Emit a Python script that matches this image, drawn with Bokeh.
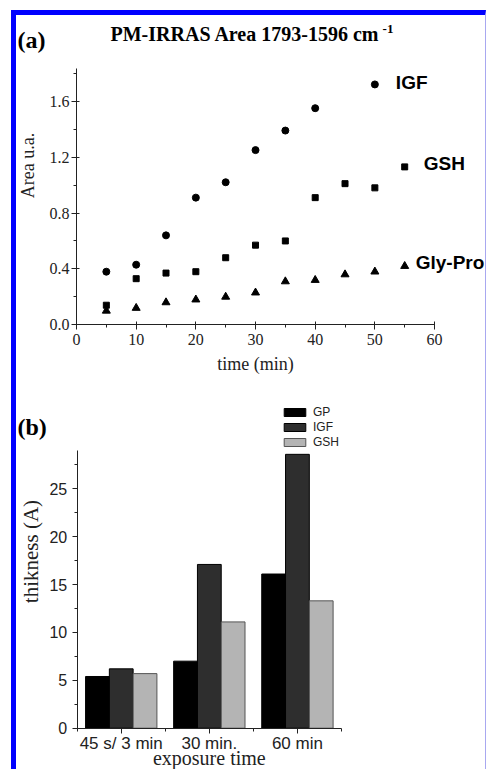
import math
from bokeh.plotting import figure
from bokeh.layouts import column
from bokeh.models import (Range1d, SingleIntervalTicker, FixedTicker, NumeralTickFormatter,
                          Label, Legend, LegendItem)
from bokeh.embed import file_html
from bokeh.resources import INLINE
from bokeh.core.properties import value

# ---------------- data: panel (a) ----------------
igf_time = [5, 10, 15, 20, 25, 30, 35, 40, 50]
igf_area = [0.38, 0.43, 0.64, 0.91, 1.02, 1.25, 1.39, 1.55, 1.72]
gsh_time = [5, 10, 15, 20, 25, 30, 35, 40, 45, 50, 55]
gsh_area = [0.14, 0.33, 0.37, 0.38, 0.48, 0.57, 0.60, 0.91, 1.01, 0.98, 1.13]
glypro_time = [5, 10, 15, 20, 25, 30, 35, 40, 45, 50, 55]
glypro_area = [0.10, 0.12, 0.16, 0.18, 0.20, 0.23, 0.31, 0.32, 0.36, 0.38, 0.42]

# ---------------- data: panel (b) ----------------
exposure = ["45 s/ 3 min", "30 min.", "60 min"]
thick_gp = [5.4, 7.0, 16.1]
thick_igf = [6.2, 17.1, 28.6]
thick_gsh = [5.7, 11.1, 13.3]

SERIF = "Liberation Serif"
SANS = "Liberation Sans"


def bare(p):
    p.outline_line_color = None
    p.xgrid.visible = False
    p.ygrid.visible = False


def lab(p, **kw):
    kw.setdefault("text_color", "black")
    p.add_layout(Label(**kw))


# ================= panel (a) =================
p1 = figure(width=469, height=365, x_range=Range1d(-10.055, 68.54),
            y_range=Range1d(-0.3986, 2.2133),
            output_backend="svg", toolbar_location=None,
            min_border_left=0, min_border_right=0, min_border_top=0, min_border_bottom=0)
bare(p1)

p1.scatter(igf_time, igf_area, marker="circle", size=7, color="black")
p1.scatter(gsh_time, gsh_area, marker="square", size=6, color="black")
p1.scatter(glypro_time, glypro_area, marker="triangle", size=8, color="black")

for xs, ys, name, dx, dy in [(igf_time, igf_area, "IGF", 21, -2),
                             (gsh_time, gsh_area, "GSH", 19, -3),
                             (glypro_time, glypro_area, "Gly-Pro", 11, -4)]:
    p1.text(x=[xs[-1]], y=[ys[-1]], text=[name], x_offset=dx, y_offset=dy,
            text_font=value(SANS), text_font_style="bold", text_font_size="19px",
            text_baseline="middle", text_align="left", text_color="black")

xa = p1.xaxis[0]
xa.ticker = SingleIntervalTicker(interval=10, num_minor_ticks=2)
xa.bounds = (0, 60)
xa.fixed_location = 0
ya = p1.yaxis[0]
ya.ticker = SingleIntervalTicker(interval=0.4, num_minor_ticks=2)
ya.bounds = (0, 1.834)
ya.fixed_location = 0
ya.formatter = NumeralTickFormatter(format="0.0")
for ax in (xa, ya):
    ax.major_label_text_font = SERIF
    ax.major_label_text_font_size = "16px"
    ax.major_label_text_color = "#222222"
    ax.axis_line_color = "#222222"
    ax.major_tick_line_color = "#222222"
    ax.minor_tick_line_color = "#222222"
    ax.major_tick_in = 3
    ax.major_tick_out = 5
    ax.minor_tick_in = 0
    ax.minor_tick_out = 3
xa.major_label_standoff = 4
ya.major_label_standoff = 2

lab(p1, x=-9.9, y=2.04, text="(a)", text_font=SERIF, text_font_style="bold",
    text_font_size="24px", text_baseline="alphabetic", text_align="left")
lab(p1, x=5.7, y=2.081, text="PM-IRRAS Area 1793-1596 cm", text_font=SERIF,
    text_font_style="bold", text_font_size="20px", text_baseline="alphabetic", text_align="left")
lab(p1, x=51.3, y=2.119, text="-1", text_font=SERIF, text_font_style="bold",
    text_font_size="13px", text_baseline="alphabetic", text_align="left")
lab(p1, x=-8.2, y=1.14, text="Area u.a.", text_font=SERIF, text_font_size="18px",
    angle=math.pi / 2, text_align="center", text_baseline="middle", text_color="#222222")
lab(p1, x=30, y=-0.284, text="time (min)", text_font=SERIF, text_font_size="18px",
    text_align="center", text_baseline="middle", text_color="#222222")

# ================= panel (b) =================
p2 = figure(width=469, height=389, x_range=Range1d(-0.189, 5.135),
            y_range=Range1d(-4.313, 36.31),
            output_backend="svg", toolbar_location=None,
            min_border_left=0, min_border_right=0, min_border_top=0, min_border_bottom=0)
bare(p2)

pos = [i + 1 for i in range(len(exposure))]
bw = 0.27
r_gp = p2.vbar(x=[v - bw for v in pos], top=thick_gp, width=bw, fill_color="#000000",
               line_color="black", line_width=1)
r_igf = p2.vbar(x=pos, top=thick_igf, width=bw, fill_color="#2e2e2e",
                line_color="black", line_width=1)
r_gsh = p2.vbar(x=[v + bw for v in pos], top=thick_gsh, width=bw, fill_color="#b4b4b4",
                line_color="#555555", line_width=1)

legend = Legend(items=[LegendItem(label="GP", renderers=[r_gp]),
                       LegendItem(label="IGF", renderers=[r_igf]),
                       LegendItem(label="GSH", renderers=[r_gsh])],
                location=(265, 320), padding=0, margin=0, spacing=1,
                glyph_width=27, glyph_height=10, label_height=14, label_standoff=5,
                label_text_font=SANS, label_text_font_size="12px",
                label_text_color="#222222",
                border_line_color=None, background_fill_alpha=0)
p2.add_layout(legend)

xb = p2.xaxis[0]
xb.ticker = FixedTicker(ticks=pos, minor_ticks=[v + 0.5 for v in [0] + pos])
xb.bounds = (0.5, 3.5)
xb.fixed_location = 0
xb.major_label_overrides = {float(v): t for v, t in zip(pos, exposure)}
yb = p2.yaxis[0]
yb.ticker = SingleIntervalTicker(interval=5, num_minor_ticks=2)
yb.bounds = (0, 29)
yb.fixed_location = 0.5
for ax in (xb, yb):
    ax.major_label_text_font = SANS
    ax.major_label_text_color = "#222222"
    ax.axis_line_color = "#222222"
    ax.major_tick_line_color = "#222222"
    ax.minor_tick_line_color = "#222222"
    ax.major_tick_in = 0
    ax.major_tick_out = 5
    ax.minor_tick_in = 0
    ax.minor_tick_out = 3
xb.major_label_text_font_size = "17px"
yb.major_label_text_font_size = "16px"
xb.major_label_standoff = 1
yb.major_label_standoff = 5

lab(p2, x=-0.178, y=31.5, text="(b)", text_font=SERIF, text_font_style="bold",
    text_font_size="24px", text_baseline="alphabetic", text_align="left")
lab(p2, x=-0.03, y=18.45, text="thikness (A)", text_font=SERIF, text_font_size="21px",
    angle=math.pi / 2, text_align="center", text_baseline="middle", text_color="#222222")
lab(p2, x=2.0, y=-3.16, text="exposure time", text_font=SERIF, text_font_size="20px",
    text_align="center", text_baseline="middle", text_color="#222222")

layout = column(p1, p2, margin=(10, 0, 0, 11),
                styles={"border-left": "5px solid #0000ff", "border-top": "5px solid #0000ff",
                        "border-right": "1px solid #a8a8f0"})

open("out.html", "w").write(file_html(layout, INLINE))
